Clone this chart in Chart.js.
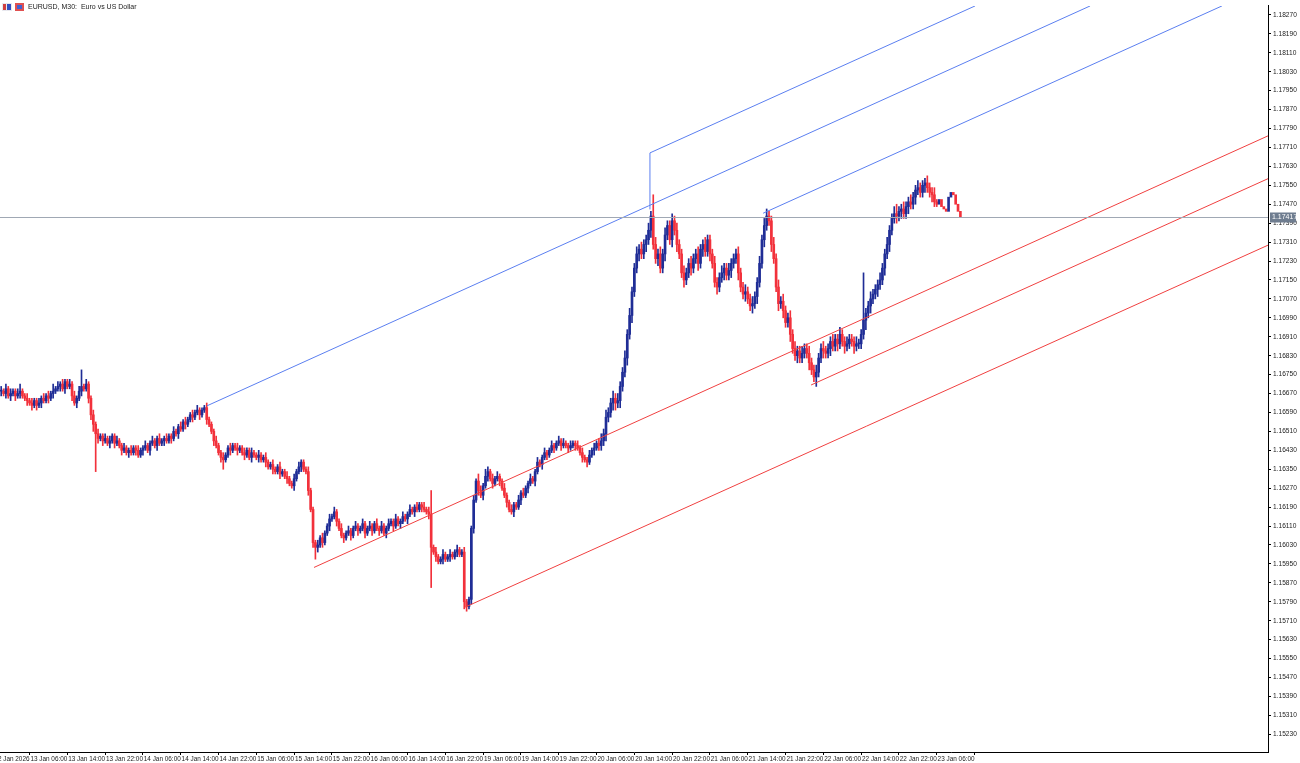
<!DOCTYPE html>
<html>
<head>
<meta charset="utf-8">
<script src="https://cdn.jsdelivr.net/npm/chart.js@4.4.1/dist/chart.umd.min.js"></script>
<style>
  html, body { margin: 0; padding: 0; background: #fff; }
  #wrap { width: 1300px; height: 763px; position: relative; }
</style>
</head>
<body>
<div id="wrap"><canvas id="chart" width="1300" height="763"></canvas></div>
<script>
// EURUSD M30, prices stored as pips above 1.15000
const BASE = 1.15;
const closes = [
	168,167,169,166,167,168,166,167,168,166,
	165,164,163,162,164,162,163,165,164,166,
	165,167,168,169,170,171,169,172,170,171,
	166,163,165,168,170,169,171,165,158,154,
	150,148,149,147,148,146,147,149,146,147,
	145,143,144,142,143,142,144,143,141,143,
	144,145,143,146,147,145,148,146,147,148,
	147,149,148,151,150,153,152,155,154,156,
	158,157,159,160,158,160,161,156,154,151,
	147,145,142,140,139,141,144,143,145,144,
	143,144,142,141,143,140,142,141,140,141,
	139,140,138,136,137,135,134,136,133,134,
	132,131,129,128,131,134,136,138,135,134,
	126,118,104,102,103,106,104,108,111,114,
	115,117,113,110,107,106,108,109,107,110,
	111,109,110,112,108,110,111,109,112,110,
	109,111,108,110,112,113,111,114,112,113,
	115,114,116,118,117,119,118,120,119,118,
	117,116,102,100,98,96,97,99,97,98,
	99,98,100,101,99,100,79,77,80,110,
	122,130,126,124,128,132,134,131,129,131,
	132,130,127,124,121,118,117,120,119,122,
	125,124,127,129,131,130,134,138,137,140,
	142,141,143,145,144,146,147,145,146,145,
	144,145,146,145,144,142,140,139,138,141,
	143,144,146,145,147,150,157,159,163,165,
	163,164,170,176,182,192,200,210,220,226,
	228,226,230,232,236,242,230,224,226,220,
	226,234,238,232,240,236,230,226,218,215,
	218,222,220,224,226,222,228,230,227,232,
	226,222,214,212,216,218,220,217,219,222,
	224,226,218,212,209,210,207,204,205,208,
	214,222,232,238,242,240,230,224,212,205,
	206,202,197,199,192,186,183,185,182,184,
	186,184,180,177,174,176,182,186,185,184,
	186,189,187,190,188,192,189,187,188,190,
	189,187,188,188,192,198,201,204,207,209,
	211,213,215,220,226,230,236,241,243,242,
	244,245,243,246,248,247,250,253,254,252,
	255,256,254,252,251,248,247,249,246,245,
	244,250,252,251,247,244,241.7
];
const wickUp = [
	2,1,2,1,2,1,1,2,3,1, 1,2,1,2,1,1,2,1,2,1, 2,1,3,1,2,1,2,1,1,2,
	1,2,1,2,7,1,2,1,1,2, 1,2,1,1,2,1,2,1,1,2, 1,1,2,1,1,2,1,1,2,1,
	1,2,1,1,2,1,1,2,1,1, 2,1,1,2,1,1,2,1,2,1, 1,2,1,2,1,1,1,2,1,1,
	1,2,1,1,2,1,1,2,1,1, 2,1,1,2,1,1,2,1,1,2, 1,1,2,1,1,2,1,1,2,1,
	1,2,1,1,2,1,2,1,1,1, 2,1,1,1,2,1,2,1,1,2, 1,2,1,1,2,1,1,2,1,1,
	2,1,1,2,1,1,2,1,1,2, 1,2,1,1,2,1,1,2,1,1, 2,1,1,2,1,1,2,1,1,2,
	1,2,10,1,2,1,1,2,1,1, 2,1,1,2,1,1,2,1,1,1, 2,1,3,2,1,3,2,1,2,1,
	2,1,1,2,1,1,2,1,1,2, 1,2,1,1,2,1,1,2,1,1, 2,1,1,2,1,1,2,1,2,1,
	1,2,1,1,2,1,2,1,1,2, 1,2,1,2,3,2,3,2,2,3, 2,3,2,2,3,2,3,2,2,3,
	2,3,2,2,3,2,9,3,2,3, 2,3,2,2,3,2,3,2,2,3, 2,2,3,2,2,3,2,2,3,2,
	2,2,3,2,2,3,2,2,3,2, 2,2,3,2,2,3,2,2,3,2, 2,3,2,3,3,2,2,3,2,3,
	2,3,2,2,3,2,3,2,2,3, 2,2,3,2,2,3,2,2,3,2, 2,2,3,2,2,3,2,2,3,2,
	2,2,3,2,2,20,2,2,3,2, 2,2,3,2,2,3,2,2,3,4, 2,2,3,2,2,3,2,2,3,2,
	2,2,3,2,2,3,1
];
const wickDn = [
	2,1,2,1,2,1,2,1,2,1, 1,2,1,2,1,2,1,2,1,1, 2,1,2,1,1,2,1,2,1,1,
	2,1,2,1,2,1,1,2,2,3, 16,2,1,2,1,1,2,1,2,1, 1,2,1,1,2,1,1,2,1,1,
	2,1,1,2,1,1,2,1,1,2, 1,1,2,1,1,2,1,1,2,1, 1,2,1,1,2,1,1,2,1,1,
	2,1,1,2,4,1,1,2,1,1, 2,1,1,2,1,1,2,1,1,2, 1,1,2,1,1,2,1,1,2,1,
	1,2,1,1,2,1,1,2,1,1, 2,1,2,5,2,1,2,1,1,2, 1,1,2,1,1,2,1,1,2,1,
	1,2,1,1,2,1,1,2,1,1, 2,1,1,2,1,1,2,1,1,2, 1,1,2,1,1,2,1,1,2,1,
	1,2,17,1,2,1,1,2,1,1, 2,1,1,2,1,1,3,2,1,2, 2,1,2,1,2,1,2,1,2,1,
	1,2,1,1,2,1,1,2,1,1, 2,1,1,2,1,1,2,1,1,2, 1,2,1,1,2,1,1,2,1,1,
	2,1,1,2,1,1,2,1,2,1, 1,2,1,2,2,2,3,2,2,3, 3,2,3,2,2,3,2,3,2,2,
	3,2,2,3,2,3,2,2,3,2, 2,3,2,2,3,2,3,2,2,3, 2,2,3,2,2,3,2,3,2,2,
	3,2,2,3,2,2,3,2,2,3, 2,2,3,2,2,3,2,2,3,2, 3,2,2,3,2,2,3,2,2,3,
	2,3,2,2,3,2,2,3,2,2, 2,2,3,2,2,4,2,2,3,2, 2,3,2,2,3,2,2,3,2,2,
	2,3,2,2,2,2,4,2,3,2, 2,3,2,2,3,2,3,2,2,3, 2,3,2,2,3,2,2,3,2,2,
	2,3,2,2,3,2,1
];
const timeLabels = ["12 Jan 2026","13 Jan 06:00","13 Jan 14:00","13 Jan 22:00","14 Jan 06:00","14 Jan 14:00",
	"14 Jan 22:00","15 Jan 06:00","15 Jan 14:00","15 Jan 22:00","16 Jan 06:00","16 Jan 14:00","16 Jan 22:00",
	"19 Jan 06:00","19 Jan 14:00","19 Jan 22:00","20 Jan 06:00","20 Jan 14:00","20 Jan 22:00","21 Jan 06:00",
	"21 Jan 14:00","21 Jan 22:00","22 Jan 06:00","22 Jan 14:00","22 Jan 22:00","23 Jan 06:00"];
const firstLabelBar = 12, barsPerLabel = 16;
const priceTicks = [];
for (let n = 0; n <= 38; n++) priceTicks.push(1.15230 + n * 0.0008);
const lastPrice = 1.17417;

// drawn objects: [barIndex, pips] pairs
const blueLines = [
	[[87.1, 161.8], [460.9, 330.8]],
	[[274.6, 268.7], [412.2, 330.8]],
	[[322.5, 243.2], [516.7, 330.8]],
	[[274.6, 244.8], [274.6, 268.7]]
];
const redLines = [
	[[132.4, 93.5], [536.2, 275.9]],
	[[342.8, 170.6], [536.2, 257.8]],
	[[196.3, 76.7], [536.2, 229.7]]
];

const px = p => BASE + p / 10000;
const BULL = "#1f2d96", BEAR = "#f2313b";
const wicks = [], bodies = [], colors = [];
closes.forEach((c, i) => {
	const o = i === 0 ? c : closes[i - 1];
	const hi = Math.max(o, c) + wickUp[i], lo = Math.min(o, c) - wickDn[i];
	wicks.push({x: i, y: [px(lo), px(hi)]});
	bodies.push({x: i, y: [px(Math.min(o, c)), px(Math.max(o, c))]});
	colors.push(c >= o ? BULL : BEAR);
});

const lineSet = (seg, color) => ({
	type: "line",
	data: seg.map(([x, p]) => ({x, y: px(p)})),
	borderColor: color, borderWidth: 1, pointRadius: 0, fill: false, order: 0
});

const overlay = {
	id: "overlay",
	afterDatasetsDraw(chart) {
		const {ctx, chartArea, scales} = chart;
		const y = Math.round(scales.y.getPixelForValue(lastPrice)) + 0.5;
		ctx.save();
		ctx.strokeStyle = "#a0a8b4"; ctx.lineWidth = 1;
		ctx.beginPath(); ctx.moveTo(chartArea.left, y); ctx.lineTo(chartArea.right, y); ctx.stroke();
		ctx.fillStyle = "#6f7d90";
		ctx.fillRect(chartArea.right + 2, y - 5, 26, 10);
		ctx.fillStyle = "#fff"; ctx.font = "7px 'Liberation Sans'"; ctx.textBaseline = "middle";
		ctx.fillText(lastPrice.toFixed(5), chartArea.right + 4, y);
		// header
		ctx.fillStyle = "#e8e8ee"; ctx.fillRect(2, 3, 10, 8);
		ctx.fillStyle = "#d04040"; ctx.fillRect(3, 4, 3, 6);
		ctx.fillStyle = "#3050c0"; ctx.fillRect(7, 4, 4, 6);
		ctx.fillStyle = "#e05050"; ctx.fillRect(15, 3, 9, 8);
		ctx.fillStyle = "#4060d0"; ctx.fillRect(17, 5, 5, 4);
		ctx.fillStyle = "#222"; ctx.textBaseline = "middle"; ctx.font = "7px 'Liberation Sans'";
		ctx.fillText("EURUSD, M30:  Euro vs US Dollar", 28, 7);
		ctx.restore();
	}
};

new Chart(document.getElementById("chart"), {
	data: {
		datasets: [
			...blueLines.map(s => lineSet(s, "#5b7ff0")),
			...redLines.map(s => lineSet(s, "#f04040")),
			{type: "bar", data: wicks, backgroundColor: colors, barThickness: 1, grouped: false, order: 2},
			{type: "bar", data: bodies, backgroundColor: colors, barThickness: 2, minBarLength: 1, grouped: false, order: 1}
		]
	},
	options: {
		responsive: false, animation: false, devicePixelRatio: 1,
		layout: {padding: 0},
		plugins: {legend: {display: false}, tooltip: {enabled: false}},
		scales: {
			x: {
				type: "linear", min: -0.5, max: 536.2, offset: false,
				grid: {drawOnChartArea: false, tickLength: 3, color: "#000", offset: false},
				border: {color: "#000"},
				afterBuildTicks: s => { s.ticks = timeLabels.map((_, j) => ({value: firstLabelBar + j * barsPerLabel})); },
				afterFit: s => { s.height = 11; s.paddingLeft = 0; s.paddingRight = 0; },
				ticks: {
					font: {size: 6.4, family: "Liberation Sans"}, color: "#222", maxRotation: 0, autoSkip: false, padding: 0,
					align: "end",
					callback: v => timeLabels[(v - firstLabelBar) / barsPerLabel]
				}
			},
			y: {
				position: "right", min: 1.15155, max: 1.18308,
				grid: {drawOnChartArea: false, tickLength: 3, color: "#000"},
				border: {color: "#000"},
				afterBuildTicks: s => { s.ticks = priceTicks.map(v => ({value: v})); },
				afterFit: s => { s.width = 32; },
				ticks: {font: {size: 6.6, family: "Liberation Sans"}, color: "#222", padding: 2, callback: v => v.toFixed(5)}
			}
		}
	},
	plugins: [overlay]
});
</script>
</body>
</html>
